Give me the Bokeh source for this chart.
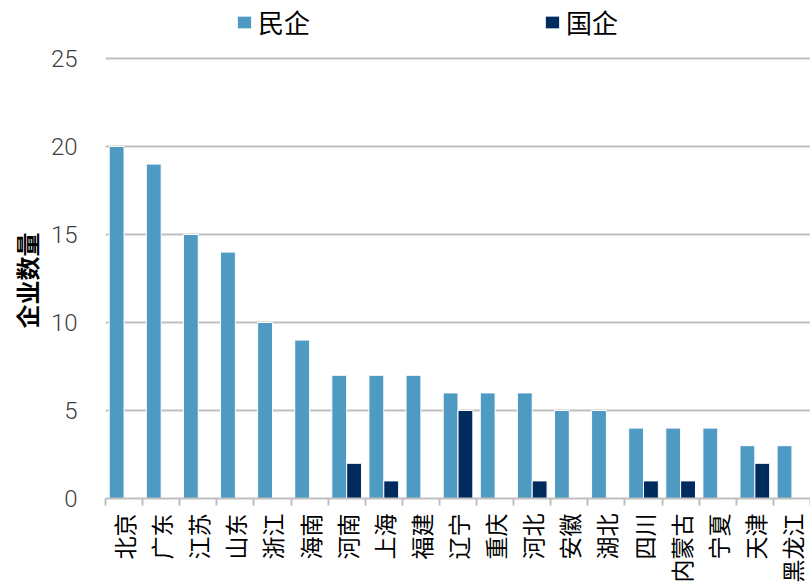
from bokeh.plotting import figure
from bokeh.models import (ColumnDataSource, FixedTicker, CustomJSTickFormatter,
                          Legend, LegendItem, Range1d, Title)
from bokeh.embed import file_html
from bokeh.resources import INLINE
import math

# Enterprise counts by province: private (民企) vs state-owned (国企)
provinces = ["北京", "广东", "江苏", "山东", "浙江", "海南", "河南", "上海", "福建", "辽宁",
             "重庆", "河北", "安徽", "湖北", "四川", "内蒙古", "宁夏", "天津", "黑龙江"]
private_cnt = [20, 19, 15, 14, 10, 9, 7, 7, 7, 6, 6, 6, 5, 5, 4, 4, 4, 3, 3]
state_cnt = [0, 0, 0, 0, 0, 0, 2, 1, 0, 5, 0, 1, 0, 0, 1, 1, 0, 2, 0]
y_ticks = [0, 5, 10, 15, 20, 25]

LIGHT = "#4f9ac3"
DARK = "#002b5e"
GRID = "#bfbfbf"

idx = list(range(len(provinces)))
src = ColumnDataSource(dict(
    x_priv=[i + 0.3 for i in idx],
    x_state=[i + 0.7 for i in idx],
    priv=private_cnt,
    state=state_cnt,
))

# the frame reaches the top edge so the legend can sit above the 25 gridline
p = figure(width=810, height=585, output_backend="svg", toolbar_location=None,
           x_range=Range1d(0, len(provinces)), y_range=Range1d(0, 25 * 498 / 440),
           min_border_left=105, min_border_right=0, min_border_top=0,
           min_border_bottom=0)
p.outline_line_color = None
p.background_fill_color = "white"

r1 = p.vbar(x="x_priv", top="priv", width=0.4, source=src,
            fill_color=LIGHT, line_color="white", line_width=1)
r2 = p.vbar(x="x_state", top="state", width=0.4, source=src,
            fill_color=DARK, line_color="white", line_width=1)

# y axis
p.yaxis.ticker = FixedTicker(ticks=y_ticks)
p.yaxis.axis_line_color = None
p.yaxis.major_tick_line_color = None
p.yaxis.minor_tick_line_color = None
p.yaxis.major_label_standoff = 22
p.yaxis.major_label_text_font = "Roboto Light"
p.yaxis.major_label_text_font_size = "24px"
p.yaxis.major_label_text_color = "#404040"

# y axis title, placed around the middle of the 0-25 span
ytitle = Title(text="企业数量", align="left", offset=170, standoff=8,
               text_font="Noto Sans CJK SC", text_font_style="bold",
               text_font_size="24px", text_color="black")
p.add_layout(ytitle, "left")

p.ygrid.grid_line_color = GRID
p.ygrid.grid_line_width = 2
p.xgrid.grid_line_color = None

# x axis: labels at category centres, tick marks at category boundaries
p.xaxis.ticker = FixedTicker(ticks=[i + 0.5 for i in idx],
                             minor_ticks=list(range(len(provinces) + 1)))
p.xaxis.formatter = CustomJSTickFormatter(args=dict(cats=provinces),
                                          code="return cats[Math.floor(tick)] || '';")
p.xaxis.major_label_orientation = math.pi / 2
p.xaxis.major_tick_line_color = None
p.xaxis.major_tick_out = 7
p.xaxis.major_tick_in = 0
p.xaxis.minor_tick_line_color = GRID
p.xaxis.minor_tick_line_width = 2
p.xaxis.minor_tick_out = 7
p.xaxis.minor_tick_in = 0
p.xaxis.axis_line_color = GRID
p.xaxis.axis_line_width = 2
p.xaxis.major_label_standoff = 8
p.xaxis.major_label_text_font = "Noto Sans CJK SC"
p.xaxis.major_label_text_font_size = "23px"
p.xaxis.major_label_text_color = "black"

legend = Legend(items=[LegendItem(label="民企", renderers=[r1]),
                       LegendItem(label="国企", renderers=[r2])],
                orientation="horizontal", location=(130, 458),
                glyph_width=18, glyph_height=16, label_standoff=5,
                spacing=233, padding=0, margin=0,
                border_line_color=None, background_fill_alpha=0,
                label_text_font="Noto Sans CJK SC", label_text_font_size="26px",
                label_text_color="black")
p.add_layout(legend)

open("out.html", "w").write(file_html(p, INLINE))
